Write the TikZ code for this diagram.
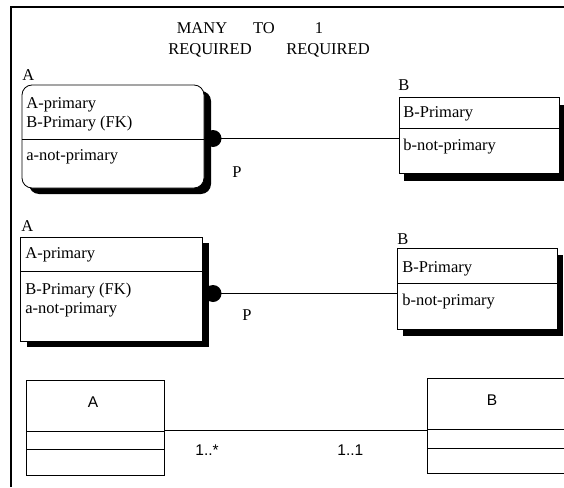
\documentclass[tikz,border=0pt]{standalone}
\usepackage{fontspec}
\setmainfont{Liberation Serif}
\newfontfamily\umlfont{Liberation Sans}
\usetikzlibrary{shadows}
\begin{document}
\begin{tikzpicture}[x=1pt,y=-1pt,line width=0.8pt,
  txt/.style={font=\fontsize{16.5}{19}\selectfont, inner sep=0pt, anchor=base west},
  ttl/.style={font=\fontsize{16.5}{19}\selectfont, inner sep=0pt, anchor=base},
  umltxt/.style={font=\umlfont\fontsize{15.5}{18}\selectfont, inner sep=0pt},
  ent/.style={draw, fill=white, inner sep=0pt},
  shad/.style 2 args={drop shadow={shadow xshift=#1, shadow yshift=#2, opacity=1, fill=black}},
  dot/.style={circle, fill=black, inner sep=0pt, minimum size=17pt}]
\clip (0,0) rectangle (564,487);
% frame
\draw[line width=1.2pt] (11,487) -- (11,7) -- (564,7);
% title
\node[ttl] (t1) at (202,33.5) {MANY};
\node[ttl] (t2) at (264,33.5) {TO};
\node[ttl] (t3) at (319,33.5) {1};
\node[ttl] (t4) at (210,54.5) {REQUIRED};
\node[ttl] (t5) at (328,54.5) {REQUIRED};
% ---------- section 1
\node[txt] (la1) at (22,80) {A};
\node[ent, rounded corners=10pt, minimum width=182pt, minimum height=103pt, shad={7pt}{-6pt}] (a1) at (113,136.5) {};
\draw (22,139) -- (204,139);
\node[txt] (a1t1) at (26,108) {A-primary};
\node[txt] (a1t2) at (26,127) {B-Primary (FK)};
\node[txt] (a1t3) at (26,160) {a-not-primary};
\node[txt] (lb1) at (398,90) {B};
\node[ent, minimum width=160pt, minimum height=76pt, shad={5pt}{-8pt}] (b1) at (479,135) {};
\draw (399,128) -- (559,128);
\node[txt] (b1t1) at (403,117) {B-Primary};
\node[txt] (b1t2) at (403,150) {b-not-primary};
\node[dot] (p1) at (213,138.5) {};
\draw (p1.center) -- (p1.center -| b1.west);
\node[txt] (r1) at (232,177) {P};
% ---------- section 2
\node[txt] (la2) at (21,231) {A};
\node[ent, minimum width=182pt, minimum height=104pt, shad={7pt}{-6pt}] (a2) at (111,289) {};
\draw (20,271) -- (202,271);
\node[txt] (a2t1) at (25,258) {A-primary};
\node[txt] (a2t2) at (25,294) {B-Primary (FK)};
\node[txt] (a2t3) at (25,313) {a-not-primary};
\node[txt] (lb2) at (397,244) {B};
\node[ent, minimum width=160pt, minimum height=81pt, shad={6pt}{-7pt}] (b2) at (477,288.5) {};
\draw (397,283) -- (557,283);
\node[txt] (b2t1) at (402,272) {B-Primary};
\node[txt] (b2t2) at (402,305) {b-not-primary};
\node[dot] (p2) at (213,293.5) {};
\draw (p2.center) -- (p2.center -| b2.west);
\node[txt] (r2) at (242,320) {P};
% ---------- section 3 (UML)
\node[ent, minimum width=138pt, minimum height=95pt] (a3) at (95,427.5) {};
\draw (26,431) -- (164,431);
\draw (26,449) -- (164,449);
\node[umltxt] (a3n) at (93,402) {A};
\node[ent, minimum width=140pt, minimum height=95pt] (b3) at (497,425.5) {};
\draw (427,429) -- (567,429);
\draw (427,448) -- (567,448);
\node[umltxt] (b3n) at (492,400) {B};
\draw ([yshift=-2.5pt]a3.east) coordinate (c3) -- (c3 -| b3.west);
\node[umltxt, anchor=base west] (m1) at (195,455) {1..*};
\node[umltxt, anchor=base west] (m2) at (337,455) {1..1};
\end{tikzpicture}
\end{document}
